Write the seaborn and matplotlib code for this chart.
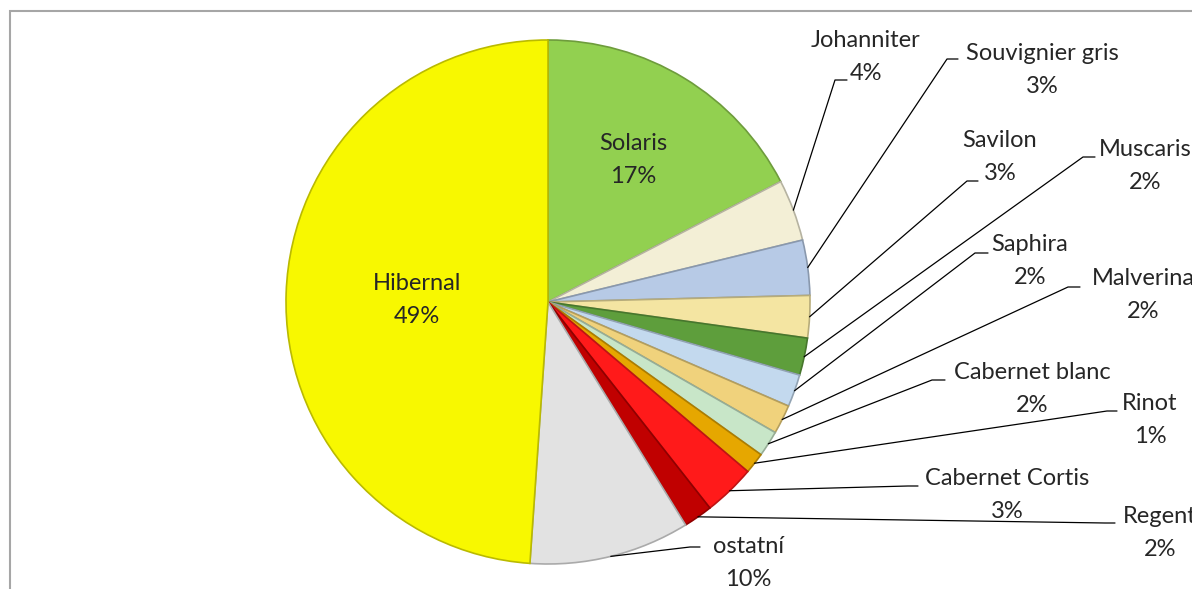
import numpy as np
import matplotlib
matplotlib.use('Agg')
import matplotlib.pyplot as plt
import seaborn as sns
from matplotlib.patches import Rectangle

# share of area by variety, clockwise from 12 o'clock
odrudy = ['Solaris', 'Johanniter', 'Souvignier gris', 'Savilon', 'Muscaris',
          'Saphira', 'Malverina', 'Cabernet blanc', 'Rinot', 'Cabernet Cortis',
          'Regent', 'ostatní', 'Hibernal']
podil = [17.4, 3.8, 3.4, 2.6, 2.3, 2.0, 1.8, 1.6, 1.3, 3.2, 1.8, 9.9, 48.9]
barvy = ['#92D050', '#F3EFD6', '#B7CAE6', '#F4E5A2', '#5E9E3C', '#C3D9EE',
         '#F0D27C', '#C8E6C8', '#E6A700', '#FF1A1A', '#C00000', '#E2E2E2',
         '#F8F800']

W, H = 1192, 589

sns.set_theme(style='white')
plt.rcParams['font.family'] = ['Lato', 'DejaVu Sans']

fig = plt.figure(figsize=(W / 100, H / 100), dpi=100)
ax = fig.add_axes([0, 0, 1, 1])

def py(y):
  # pixel row -> data y
  return H - y

cx, cy, r = 548, py(302), 262

def darker(c, f=0.75):
  rgb = np.array(matplotlib.colors.to_rgb(c))
  return tuple(rgb * f)

wedges, _ = ax.pie(podil, colors=barvy, startangle=90, counterclock=False,
                   center=(cx, cy), radius=r, frame=True,
                   wedgeprops=dict(linewidth=1.2))
for w, c in zip(wedges, barvy):
  w.set_edgecolor(darker(c))
ax.set_xlim(0, W)
ax.set_ylim(0, H)
ax.set_aspect('equal')
ax.axis('off')

fs = 17
ls = 1.7
inside = {'Solaris': (633, 160), 'Hibernal': (417, 300)}

# label centre (px) and elbow of leader line (px)
outside = {
  'Johanniter': ((866, 57), (835, 80), (847, 80)),
  'Souvignier gris': ((1042, 70), (947, 59), (958, 59)),
  'Savilon': ((1000, 157), (967, 181), (978, 181)),
  'Muscaris': ((1145, 166), (1083, 157), (1095, 157)),
  'Saphira': ((1030, 261), (975, 253), (988, 253)),
  'Malverina': ((1143, 295), (1068, 287), (1080, 287)),
  'Cabernet blanc': ((1032, 389), (932, 380), (945, 380)),
  'Rinot': ((1150, 420), (1107, 411), (1117, 411)),
  'Cabernet Cortis': ((1007, 495), (908, 486), (918, 486)),
  'Regent': ((1160, 533), (1105, 523), (1115, 523)),
  'ostatní': ((748, 563), (690, 547), (700, 547)),
}

for w, name, val in zip(wedges, odrudy, podil):
  txt = f'{name}\n{val:.0f}%'
  if name in inside:
    x, y = inside[name]
    ax.text(x, py(y), txt, ha='center', va='center', fontsize=fs,
            linespacing=ls)
    continue
  (tx, ty), (ex, ey), (hx, hy) = outside[name]
  mid = np.deg2rad((w.theta1 + w.theta2) / 2)
  sx, sy = cx + r * np.cos(mid), cy + r * np.sin(mid)
  ax.plot([sx, ex, hx], [sy, py(ey), py(hy)], color='black', lw=0.9)
  ax.text(tx, py(ty), txt, ha='center', va='center', fontsize=fs,
          linespacing=ls, clip_on=False)

# chart area border (runs off right and bottom edges)
fig.patches.append(Rectangle((10 / W, -0.05), 1.1, (H - 11) / H + 0.05,
                             transform=fig.transFigure, fill=False,
                             edgecolor='#A6A6A6', lw=1.5))

fig.savefig('out.png', dpi=100)
